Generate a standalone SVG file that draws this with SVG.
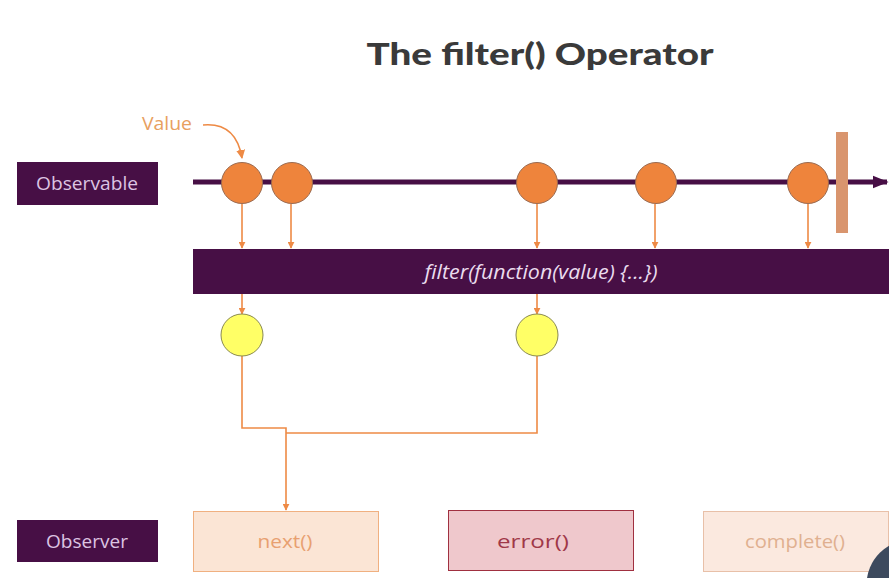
<svg xmlns="http://www.w3.org/2000/svg" width="889" height="578" viewBox="0 0 889 578">
<defs>
<style>
.lbl{fill:#470f45}
.lbltxt{font-family:"Open Sans","Liberation Sans",sans-serif;font-size:18px;fill:#dcc4e2;text-anchor:middle}
.obs{fill:#ee843c;stroke:#9a6a50;stroke-width:1}
.emit{fill:#ffff66;stroke:#8a8a50;stroke-width:1}
.conn{fill:none;stroke:#ee8a45;stroke-width:1.6}
.btxt{font-family:"Open Sans","Liberation Sans",sans-serif;font-size:19px;text-anchor:middle}
</style>
<marker id="ah" viewBox="0 0 10 10" refX="9" refY="5" markerWidth="7" markerHeight="7" orient="auto" markerUnits="userSpaceOnUse">
<path d="M0,0 L10,5 L0,10 z" fill="#ee8a45"/>
</marker>
<marker id="ahL" viewBox="0 0 10 10" refX="9" refY="5" markerWidth="9" markerHeight="9" orient="auto" markerUnits="userSpaceOnUse">
<path d="M0,0 L10,5 L0,10 z" fill="#ee8a45"/>
</marker>
<marker id="ahP" viewBox="0 0 10 10" refX="9" refY="5" markerWidth="16" markerHeight="16" orient="auto" markerUnits="userSpaceOnUse">
<path d="M0,1 L10,5 L0,9 z" fill="#470f45"/>
</marker>
</defs>
<rect width="889" height="578" fill="#ffffff"/>
<text x="540" y="65" font-family="Lato,'Open Sans',sans-serif" font-weight="900" font-size="30" fill="#3a3a3a" text-anchor="middle" textLength="347" lengthAdjust="spacingAndGlyphs">The filter() Operator</text>

<g id="observable-label">
<rect class="lbl" x="17" y="162" width="141" height="43"/>
<text class="lbltxt" x="87" y="190" textLength="102" lengthAdjust="spacingAndGlyphs">Observable</text>
</g>
<g id="observer-label">
<rect class="lbl" x="17" y="520" width="141" height="42"/>
<text class="lbltxt" x="87" y="548" textLength="82" lengthAdjust="spacingAndGlyphs">Observer</text>
</g>

<g id="timeline">
<line x1="193" y1="182" x2="887" y2="182" stroke="#470f45" stroke-width="5" marker-end="url(#ahP)"/>
</g>
<g id="complete-bar">
<rect x="836" y="132" width="12" height="101" fill="#d9956e"/>
</g>

<g id="connectors">
<path class="conn" d="M203,125 Q236,122 242,158" marker-end="url(#ahL)"/>
<line class="conn" x1="242" y1="204" x2="242" y2="248" marker-end="url(#ah)"/>
<line class="conn" x1="291" y1="204" x2="291" y2="248" marker-end="url(#ah)"/>
<line class="conn" x1="537" y1="204" x2="537" y2="248" marker-end="url(#ah)"/>
<line class="conn" x1="655" y1="204" x2="655" y2="248" marker-end="url(#ah)"/>
<line class="conn" x1="808" y1="204" x2="808" y2="248" marker-end="url(#ah)"/>
<line class="conn" x1="242" y1="294" x2="242" y2="314" marker-end="url(#ah)"/>
<line class="conn" x1="537" y1="294" x2="537" y2="314" marker-end="url(#ah)"/>
<path class="conn" d="M242,356 V428 H286 V510" marker-end="url(#ah)"/>
<path class="conn" d="M537,356 V433 H286"/>
</g>

<g id="value-label">
<text x="167" y="130" font-family="'Open Sans','Liberation Sans',sans-serif" font-size="18" fill="#e8a060" text-anchor="middle" textLength="50" lengthAdjust="spacingAndGlyphs">Value</text>
</g>

<g id="v1"><circle class="obs" cx="242" cy="183" r="20.5"/></g>
<g id="v2"><circle class="obs" cx="292" cy="183" r="20.5"/></g>
<g id="v3"><circle class="obs" cx="537" cy="183" r="20.5"/></g>
<g id="v4"><circle class="obs" cx="656" cy="183" r="20.5"/></g>
<g id="v5"><circle class="obs" cx="808" cy="183" r="20.5"/></g>

<g id="filter">
<rect x="193" y="249" width="696" height="45" fill="#470f45"/>
<text x="541" y="279" font-family="'Open Sans','Liberation Sans',sans-serif" font-style="italic" font-size="20" fill="#eadcee" text-anchor="middle" textLength="233" lengthAdjust="spacingAndGlyphs">filter(function(value) {...})</text>
</g>

<g id="e1"><circle class="emit" cx="242" cy="335" r="21"/></g>
<g id="e2"><circle class="emit" cx="537" cy="335" r="21"/></g>

<g id="next">
<rect x="193.5" y="511.5" width="185" height="60" fill="#fbe5d5" stroke="#f0b080" stroke-width="1"/>
<text class="btxt" x="285" y="548" fill="#e8a070" textLength="55" lengthAdjust="spacingAndGlyphs">next()</text>
</g>
<g id="error">
<rect x="448.5" y="510.5" width="185" height="60" fill="#efc8cc" stroke="#a03040" stroke-width="1"/>
<text class="btxt" x="533" y="548" fill="#a03848" textLength="72" lengthAdjust="spacingAndGlyphs">error()</text>
</g>
<g id="complete">
<rect x="703.5" y="511.5" width="185" height="60" fill="#fbe9df" stroke="#e8c0a8" stroke-width="1"/>
<text class="btxt" x="795" y="548" fill="#e0b090" textLength="100" lengthAdjust="spacingAndGlyphs">complete()</text>
</g>

<circle cx="912" cy="585" r="45.5" fill="#3d4a5e"/>
</svg>
